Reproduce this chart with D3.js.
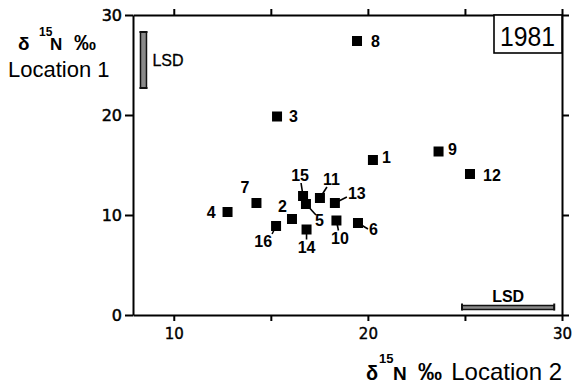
<!DOCTYPE html>
<html>
<head>
<meta charset="utf-8">
<script src="https://cdn.jsdelivr.net/npm/d3@7"></script>
<style>
  html, body { margin: 0; padding: 0; background: #fff; }
  svg { display: block; }
</style>
</head>
<body>
<div id="chart"></div>
<script>
// sample ids and d15N values (per mil)
const ids = [1, 2, 3, 4, 5, 6, 7, 8, 9, 10, 11, 12, 13, 14, 15, 16];
const loc2 = [20.26, 16.09, 15.32, 12.77, 16.81, 19.49, 14.26, 19.44, 23.64, 18.38, 17.53, 25.26, 18.30, 16.84, 16.66, 15.27];
const loc1 = [15.5, 9.6, 19.85, 10.3, 11.1, 9.2, 11.2, 27.4, 16.35, 9.45, 11.7, 14.1, 11.2, 8.55, 11.9, 8.9];

const xTicks = [10, 15, 20, 25, 30];
const xTickLabels = [10, 20, 30];
const yTicks = [0, 10, 20, 30];
const yearLabel = "1981";

// LSD bars: [position on the other axis, start, end]
const lsdLoc1 = [8.44, 22.7, 28.3];
const lsdLoc2 = [0.75, 24.85, 29.6];

// label placement relative to the point: dx, dy, anchor, leader end (or null)
const labelPos = {
    1: [9, 3, "start", null],
    2: [-5, -7, "end", null],
    3: [12, 5, "start", null],
    4: [-12, 5.5, "end", null],
    5: [9, 22, "start", [10, 11]],
    6: [11, 12, "start", [10, 6]],
    7: [-7, -10, "end", null],
    8: [14, 6, "start", null],
    9: [9.5, 3.5, "start", null],
    10: [3.5, 23, "middle", [2, 10]],
    11: [3, -13, "start", [7, -11]],
    12: [13, 7, "start", null],
    13: [13, -4, "start", [12, -6]],
    14: [0, 23, "middle", [0, 10]],
    15: [-3, -15, "middle", [-2, -13]],
    16: [-4, 21, "end", [-4, 8]]
};

const W = 573, H = 385;
const mLeft = 133, mRight = 562, mTop = 15, mBottom = 315;

const svg = d3.select("#chart").append("svg")
    .attr("width", W).attr("height", H)
    .attr("viewBox", `0 0 ${W} ${H}`);

const x = d3.scaleLinear().domain([7.9, 30]).range([mLeft, mRight]);
const y = d3.scaleLinear().domain([0, 30]).range([mBottom, mTop]);

const points = ids.map((id, i) => ({ id, x: loc2[i], y: loc1[i] }));

function styleAxis(g) {
    g.select(".domain").attr("stroke", "#000").attr("stroke-width", 2);
    g.selectAll(".tick line").attr("stroke", "#000").attr("stroke-width", 2);
}

// axes
svg.append("g")
    .attr("transform", `translate(${mLeft},0)`)
    .call(d3.axisLeft(y).tickValues(yTicks).tickSize(8).tickSizeOuter(0).tickPadding(3))
    .call(styleAxis)
    .call(g => g.selectAll(".tick text")
        .attr("font-family", "DejaVu Sans").attr("font-size", 16).attr("fill", "#000")
        .attr("stroke", "#000").attr("stroke-width", 0.5));

svg.append("g")
    .attr("transform", `translate(${mRight},0)`)
    .call(d3.axisRight(y).tickValues(yTicks).tickSize(7).tickSizeOuter(0).tickFormat(""))
    .call(styleAxis);

svg.append("g")
    .attr("transform", `translate(0,${mTop})`)
    .call(d3.axisTop(x).tickValues(xTicks).tickSize(6).tickSizeOuter(0).tickFormat(""))
    .call(styleAxis);

svg.append("g")
    .attr("transform", `translate(0,${mBottom})`)
    .call(d3.axisBottom(x).tickValues(xTicks).tickSize(6).tickSizeOuter(0).tickPadding(7)
        .tickFormat(d => xTickLabels.includes(d) ? d : ""))
    .call(styleAxis)
    .call(g => g.selectAll(".tick text")
        .attr("font-family", "DejaVu Sans").attr("font-size", 15).attr("fill", "#000")
        .attr("stroke", "#000").attr("stroke-width", 0.4));

// LSD bars
const lsdV = svg.append("g");
lsdV.append("rect")
    .attr("x", x(lsdLoc1[0]) - 3).attr("y", y(lsdLoc1[2]))
    .attr("width", 6).attr("height", y(lsdLoc1[1]) - y(lsdLoc1[2]))
    .attr("fill", "#8a8a8a").attr("stroke", "#111").attr("stroke-width", 1.5);
[lsdLoc1[1], lsdLoc1[2]].forEach(v => {
    lsdV.append("line")
        .attr("x1", x(lsdLoc1[0]) - 4).attr("x2", x(lsdLoc1[0]) + 4)
        .attr("y1", y(v)).attr("y2", y(v))
        .attr("stroke", "#111").attr("stroke-width", 2);
});
lsdV.append("text")
    .attr("x", x(lsdLoc1[0]) + 9).attr("y", y((lsdLoc1[1] + lsdLoc1[2]) / 2) + 6)
    .attr("font-family", "Liberation Sans").attr("font-size", 16)
    .attr("stroke", "#000").attr("stroke-width", 0.3)
    .text("LSD");

const lsdH = svg.append("g");
lsdH.append("rect")
    .attr("x", x(lsdLoc2[1])).attr("y", y(lsdLoc2[0]) - 2)
    .attr("width", x(lsdLoc2[2]) - x(lsdLoc2[1])).attr("height", 4)
    .attr("fill", "#8a8a8a").attr("stroke", "#111").attr("stroke-width", 1.5);
[lsdLoc2[1], lsdLoc2[2]].forEach(v => {
    lsdH.append("line")
        .attr("x1", x(v)).attr("x2", x(v))
        .attr("y1", y(lsdLoc2[0]) - 4).attr("y2", y(lsdLoc2[0]) + 3)
        .attr("stroke", "#111").attr("stroke-width", 2);
});
lsdH.append("text")
    .attr("x", (x(lsdLoc2[1]) + x(lsdLoc2[2])) / 2).attr("y", y(lsdLoc2[0]) - 6)
    .attr("text-anchor", "middle")
    .attr("font-family", "Liberation Sans").attr("font-size", 16).attr("font-weight", "bold")
    .text("LSD");

// leader lines
svg.append("g").selectAll("line")
    .data(points.filter(d => labelPos[d.id][3]))
    .join("line")
    .attr("x1", d => x(d.x)).attr("y1", d => y(d.y))
    .attr("x2", d => x(d.x) + labelPos[d.id][3][0])
    .attr("y2", d => y(d.y) + labelPos[d.id][3][1])
    .attr("stroke", "#000").attr("stroke-width", 1.6);

// squares
const sq = 10;
svg.append("g").selectAll("rect")
    .data(points)
    .join("rect")
    .attr("x", d => x(d.x) - sq / 2)
    .attr("y", d => y(d.y) - sq / 2)
    .attr("width", sq).attr("height", sq)
    .attr("fill", "#000");

// point labels
svg.append("g").selectAll("text")
    .data(points)
    .join("text")
    .attr("x", d => x(d.x) + labelPos[d.id][0])
    .attr("y", d => y(d.y) + labelPos[d.id][1])
    .attr("text-anchor", d => labelPos[d.id][2])
    .attr("font-family", "Liberation Sans").attr("font-weight", "bold").attr("font-size", 16)
    .text(d => d.id);

// year box
svg.append("rect")
    .attr("x", 494).attr("y", mTop)
    .attr("width", mRight - 494).attr("height", 38)
    .attr("fill", "#fff").attr("stroke", "#000").attr("stroke-width", 1.6);
svg.append("text")
    .attr("x", 500).attr("y", 46)
    .attr("font-family", "Liberation Sans").attr("font-size", 28)
    .attr("textLength", 55).attr("lengthAdjust", "spacingAndGlyphs")
    .text(yearLabel);

// y axis title
const yt = svg.append("text").attr("font-family", "Liberation Sans").attr("fill", "#000");
yt.append("tspan").attr("x", 18).attr("y", 50).attr("font-size", 19).attr("font-weight", "bold").text("δ");
yt.append("tspan").attr("x", 39).attr("y", 36).attr("font-size", 12).attr("font-weight", "bold").text("15");
yt.append("tspan").attr("x", 50).attr("y", 50).attr("font-size", 17).attr("font-weight", "bold").text("N");
yt.append("tspan").attr("x", 74).attr("y", 50).attr("font-size", 22).attr("font-weight", "bold").text("‰");
svg.append("text")
    .attr("x", 8).attr("y", 77)
    .attr("font-family", "Liberation Sans").attr("font-size", 22)
    .text("Location 1");

// x axis title
const xt = svg.append("text").attr("font-family", "Liberation Sans").attr("fill", "#000");
xt.append("tspan").attr("x", 366).attr("y", 380).attr("font-size", 20).attr("font-weight", "bold").text("δ");
xt.append("tspan").attr("x", 379).attr("y", 363).attr("font-size", 13).attr("font-weight", "bold").text("15");
xt.append("tspan").attr("x", 393).attr("y", 380).attr("font-size", 19).attr("font-weight", "bold").text("N");
xt.append("tspan").attr("x", 418).attr("y", 380).attr("font-size", 24).attr("font-weight", "bold").text("‰");
svg.append("text")
    .attr("x", 562).attr("y", 380).attr("text-anchor", "end")
    .attr("font-family", "Liberation Sans").attr("font-size", 24)
    .text("Location 2");
</script>
</body>
</html>
